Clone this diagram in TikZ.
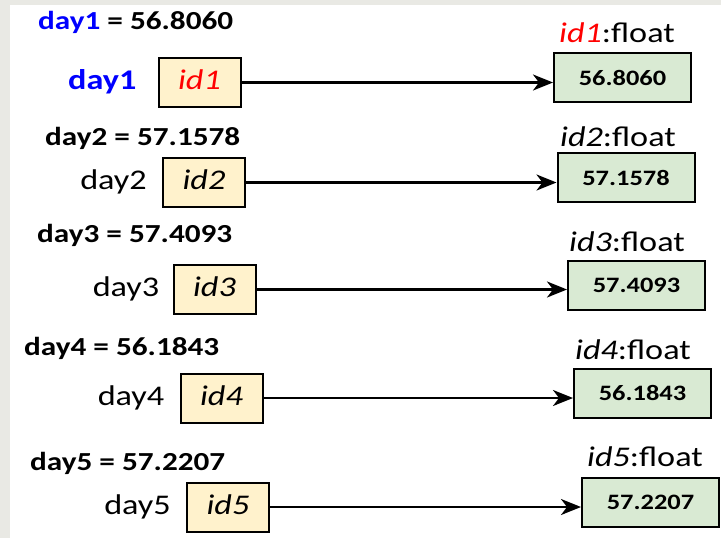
\documentclass[tikz,border=0pt]{standalone}
\usepackage{fontspec}
\setmainfont{Carlito}[FakeStretch=1.2]
\usetikzlibrary{arrows.meta,positioning}
\definecolor{varfill}{HTML}{FFF2CC}
\definecolor{objfill}{HTML}{D9EAD3}
\definecolor{slidegray}{HTML}{E9E9E4}
\definecolor{nameblue}{HTML}{0000FF}

\tikzset{
	refbox/.style={draw=black, line width=2pt, fill=varfill, minimum width=82pt, minimum height=49pt, inner sep=0pt, font=\fontsize{28.5}{31}\selectfont\itshape, text height=20pt, text depth=6pt},
	objbox/.style={draw=black, line width=2pt, fill=objfill, minimum width=137pt, minimum height=49pt, inner sep=0pt, font=\fontsize{22}{25}\selectfont\bfseries},
	varname/.style={inner sep=0pt, font=\fontsize{28.5}{31}\selectfont, text height=20pt, text depth=6pt},
	assign/.style={anchor=west, inner sep=0pt, font=\fontsize{26}{29}\selectfont\bfseries},
	typelbl/.style={inner sep=0pt, font=\fontsize{28.5}{31}\selectfont},
	ptr/.style={-{Stealth[length=20pt,width=16pt,inset=6pt]}, line width=2.3pt}
}

\begin{document}
\begin{tikzpicture}[x=1pt, y=-1pt]
			%%%%% START %%%%%
			
			\fill[slidegray] (0, 0) rectangle (721, 538);
			\fill[white] (10, 5) rectangle (721, 538);
			
			% day1
			\node[assign] (asg1) at (38, 22) {\textcolor{nameblue}{day1} = 56.8060};
			\node[refbox] (ref1) at (199.5, 82.5) {\textcolor{red}{id1}};
			\node[varname, left=21pt of ref1, font=\fontsize{28.5}{31}\selectfont\bfseries, text=nameblue] (var1) {day1};
			\node[objbox] (obj1) at (622.5, 77.5) {56.8060};
			\node[typelbl] (typ1) at (617, 33) {\textcolor{red}{\textit{id1}}:float};
			\draw[ptr] (ref1.east) -- (ref1.east -| obj1.west);
			
			% day2
			\node[assign] (asg2) at (45, 138) {day2 = 57.1578};
			\node[refbox] (ref2) at (204, 182.5) {id2};
			\node[varname, left=15pt of ref2] (var2) {day2};
			\node[objbox] (obj2) at (626, 177.5) {57.1578};
			\node[typelbl] (typ2) at (618, 137) {\textit{id2}:float};
			\draw[ptr] (ref2.east) -- (ref2.east -| obj2.west);
			
			% day3
			\node[assign] (asg3) at (37, 235) {day3 = 57.4093};
			\node[refbox] (ref3) at (214.5, 289.5) {id3};
			\node[varname, left=13pt of ref3] (var3) {day3};
			\node[objbox] (obj3) at (636.5, 285) {57.4093};
			\node[typelbl] (typ3) at (627, 242) {\textit{id3}:float};
			\draw[ptr] (ref3.east) -- (ref3.east -| obj3.west);
			
			% day4
			\node[assign] (asg4) at (24, 348) {day4 = 56.1843};
			\node[refbox] (ref4) at (221.5, 398) {id4};
			\node[varname, left=15pt of ref4] (var4) {day4};
			\node[objbox] (obj4) at (642.5, 393) {56.1843};
			\node[typelbl] (typ4) at (633, 350) {\textit{id4}:float};
			\draw[ptr] (ref4.east) -- (ref4.east -| obj4.west);
			
			% day5
			\node[assign] (asg5) at (30, 463) {day5 = 57.2207};
			\node[refbox] (ref5) at (228, 507) {id5};
			\node[varname, left=15pt of ref5] (var5) {day5};
			\node[objbox] (obj5) at (650.5, 502) {57.2207};
			\node[typelbl] (typ5) at (645, 457) {\textit{id5}:float};
			\draw[ptr] (ref5.east) -- (ref5.east -| obj5.west);
			
			%%%%% END %%%%%
\end{tikzpicture}
\end{document}
